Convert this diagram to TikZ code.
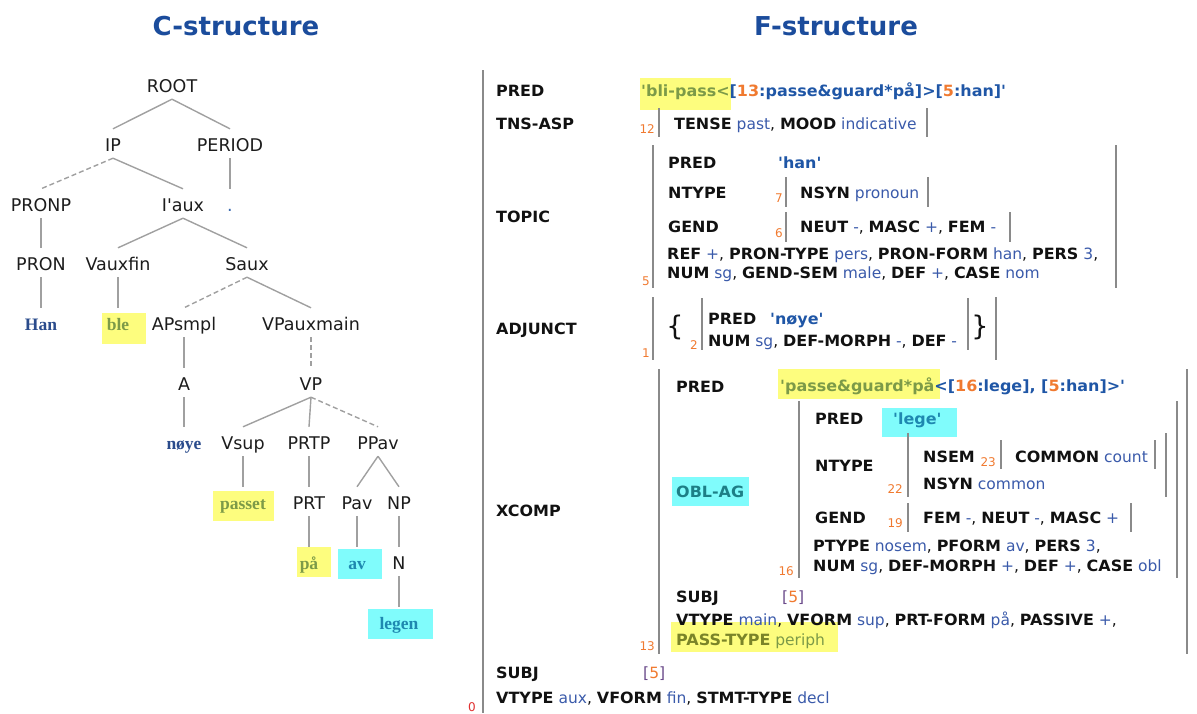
\documentclass[tikz,border=0pt]{standalone}
\usepackage{fontspec}
\setmainfont{DejaVu Sans}[Ligatures=TeXOff, BoldFeatures={FakeStretch=1.03}]
\newfontfamily\headfont{DejaVu Sans}[Ligatures=TeXOff]
\newfontfamily\termfont{Liberation Serif}[Ligatures=TeXOff]

\definecolor{titleblue}{HTML}{1B4C9C}
\definecolor{catblack}{HTML}{1C1C1C}
\definecolor{treegray}{HTML}{A0A0A0}
\definecolor{bargray}{HTML}{8A8A8A}
\definecolor{attrblack}{HTML}{111111}
\definecolor{valblue}{HTML}{3A5AAA}
\definecolor{predblue}{HTML}{1F56A6}
\definecolor{idxorange}{HTML}{F07A30}
\definecolor{zerored}{HTML}{E03030}
\definecolor{brackpurple}{HTML}{6A4A8A}
\definecolor{hlyellow}{HTML}{FDFD7E}
\definecolor{hlcyan}{HTML}{80FCFC}
\definecolor{hltext}{HTML}{7C9A48}
\definecolor{passtext}{HTML}{7A8428}
\definecolor{cyantext}{HTML}{1E88B0}
\definecolor{obltext}{HTML}{1D7F86}
\definecolor{termblue}{HTML}{2B4C8C}
\definecolor{dotblue}{HTML}{3A6AB0}

% attribute / value helpers for the f-structure
\newcommand\fatt[1]{\textbf{\textcolor{attrblack}{#1}}}
\newcommand\fval[1]{\textcolor{valblue}{#1}}
\newcommand\sform[1]{\textbf{\textcolor{predblue}{#1}}}
\newcommand\ixn[1]{\textcolor{idxorange}{#1}}
\newcommand\brk[1]{\textcolor{brackpurple}{#1}}

\tikzset{
  ctitle/.style={font=\fontsize{26}{30}\selectfont\headfont\bfseries, text=titleblue, anchor=base, inner sep=0},
  cat/.style={font=\fontsize{17.5}{20}\selectfont, text=catblack, inner sep=0,
              text height=22.4pt, text depth=6.6pt, anchor=base},
  term/.style={cat, font=\fontsize{17.5}{20}\selectfont\termfont\bfseries},
  branch/.style={draw=treegray, line width=1.4pt},
  dbranch/.style={branch, dash pattern=on 5pt off 3pt},
  fs/.style={font=\fontsize{15.5}{18}\selectfont, inner sep=0, anchor=base west, text=attrblack},
  idx/.style={font=\fontsize{12}{13}\selectfont, text=idxorange, inner sep=0, anchor=base east},
  fbar/.style={draw=bargray, line width=2pt},
  hly/.style={fill=hlyellow},
  hlc/.style={fill=hlcyan},
  brace/.style={font=\fontsize{27}{27}\selectfont, inner sep=0, text=attrblack}
}

\begin{document}
\begin{tikzpicture}[x=1pt,y=-1pt]
\useasboundingbox (0,0) rectangle (1197,713);

% ---------------- titles ----------------
\node[ctitle] (ctit) at (236,35.5) {C-structure};
\node[ctitle] (ftit) at (836,35.5) {F-structure};

% ---------------- c-structure highlights ----------------
\fill[hly] (102,313) rectangle (146,344);
\fill[hly] (213,491) rectangle (274,521);
\fill[hly] (297,547) rectangle (331,577);
\fill[hlc] (338,549) rectangle (382,579);
\fill[hlc] (368,609) rectangle (433,639);

% ---------------- c-structure tree ----------------
\node[cat] (root)   at (172,92.4)  {ROOT};
\node[cat] (ip)     at (113,151.4) {IP};
\node[cat] (period) at (230,151.4) {PERIOD};
\node[cat] (pronp)  at (41,211.4)  {PRONP};
\node[cat] (iaux)   at (183,211.4) {I'aux};
\node[cat, text=dotblue] (dot) at (230,211.4) {.};
\node[cat] (pron)   at (41,270.4)  {PRON};
\node[cat] (vauxfin) at (118,270.4) {Vauxfin};
\node[cat] (saux)   at (247,270.4) {Saux};
\node[term, text=termblue] (han) at (41,330.4) {Han};
\node[term, text=hltext] (ble) at (118,330.4) {ble};
\node[cat] (apsmpl) at (184,330.4) {APsmpl};
\node[cat] (vpaux)  at (311,330.4) {VPauxmain};
\node[cat] (a)      at (184,390.4) {A};
\node[cat] (vp)     at (311,390.4) {VP};
\node[term, text=termblue] (noye) at (184,449.4) {nøye};
\node[cat] (vsup)   at (243,449.4) {Vsup};
\node[cat] (prtp)   at (309,449.4) {PRTP};
\node[cat] (ppav)   at (378,449.4) {PPav};
\node[term, text=hltext] (passet) at (243,509.4) {passet};
\node[cat] (prt)    at (309,509.4) {PRT};
\node[cat] (pav)    at (357,509.4) {Pav};
\node[cat] (np)     at (399,509.4) {NP};
\node[term, text=hltext] (paa) at (309,569.4) {på};
\node[term, text=cyantext] (av) at (357,569.4) {av};
\node[cat] (n)      at (399,569.4) {N};
\node[term, text=cyantext] (legen) at (399,629.4) {legen};

\draw[branch]  (root.south) -- (ip.north);
\draw[branch]  (root.south) -- (period.north);
\draw[dbranch] (ip.south) -- (pronp.north);
\draw[branch]  (ip.south) -- (iaux.north);
\draw[branch]  (period.south) -- (dot.north);
\draw[branch]  (pronp.south) -- (pron.north);
\draw[branch]  (iaux.south) -- (vauxfin.north);
\draw[branch]  (iaux.south) -- (saux.north);
\draw[branch]  (pron.south) -- (han.north);
\draw[branch]  (vauxfin.south) -- (ble.north);
\draw[dbranch] (saux.south) -- (apsmpl.north);
\draw[branch]  (saux.south) -- (vpaux.north);
\draw[branch]  (apsmpl.south) -- (a.north);
\draw[dbranch] (vpaux.south) -- (vp.north);
\draw[branch]  (a.south) -- (noye.north);
\draw[branch]  (vp.south) -- (vsup.north);
\draw[branch]  (vp.south) -- (prtp.north);
\draw[dbranch] (vp.south) -- (ppav.north);
\draw[branch]  (vsup.south) -- (passet.north);
\draw[branch]  (prtp.south) -- (prt.north);
\draw[branch]  (ppav.south) -- (pav.north);
\draw[branch]  (ppav.south) -- (np.north);
\draw[branch]  (prt.south) -- (paa.north);
\draw[branch]  (pav.south) -- (av.north);
\draw[branch]  (np.south) -- (n.north);
\draw[branch]  (n.south) -- (legen.north);

% ---------------- f-structure highlights ----------------
\fill[hly] (640,78) rectangle (731,110);
\fill[hly] (778,369) rectangle (940,399);
\fill[hlc] (882,408) rectangle (957,437);
\fill[hlc] (672,477) rectangle (749,506);
\fill[hly] (671,622) rectangle (838,652);

% ---------------- f-structure brackets ----------------
\draw[fbar] (483,70) -- (483,713);
% TNS-ASP
\draw[fbar] (659,108) -- (659,137);  \draw[fbar] (927,108) -- (927,137);
% TOPIC
\draw[fbar] (653,145) -- (653,288);  \draw[fbar] (1116,145) -- (1116,288);
\draw[fbar] (786,177) -- (786,207);  \draw[fbar] (928,177) -- (928,207);
\draw[fbar] (786,212) -- (786,242);  \draw[fbar] (1010,212) -- (1010,242);
% ADJUNCT
\draw[fbar] (653,297) -- (653,360);  \draw[fbar] (996,297) -- (996,360);
\draw[fbar] (702,298) -- (702,350);  \draw[fbar] (968,298) -- (968,350);
% XCOMP
\draw[fbar] (659,369) -- (659,654);  \draw[fbar] (1187,369) -- (1187,654);
\draw[fbar] (799,401) -- (799,578);  \draw[fbar] (1177,401) -- (1177,578);
\draw[fbar] (908,433) -- (908,497);  \draw[fbar] (1166,433) -- (1166,497);
\draw[fbar] (1001,440) -- (1001,469); \draw[fbar] (1155,440) -- (1155,469);
\draw[fbar] (908,503) -- (908,532);  \draw[fbar] (1131,503) -- (1131,532);

% ---------------- f-structure: outer level ----------------
\node[fs] (f0pred) at (496,96.6) {\fatt{PRED}};
\node[fs] (f0predv) at (641,96.6) {\textbf{\textcolor{hltext}{'bli-pass<}\textcolor{predblue}{[}\ixn{13}\textcolor{predblue}{:passe\&guard*på]>[}\ixn{5}\textcolor{predblue}{:han]'}}};
\node[fs] (f0tns) at (496,129.6) {\fatt{TNS-ASP}};
\node[idx] (i12) at (655,133) {12};
\node[fs] (f12) at (674,129.6) {\fatt{TENSE} \fval{past}, \fatt{MOOD} \fval{indicative}};

% TOPIC
\node[fs] (f0topic) at (496,222.6) {\fatt{TOPIC}};
\node[fs] (f5pred) at (668,168.6) {\fatt{PRED}};
\node[fs] (f5predv) at (778,168.6) {\sform{'han'}};
\node[fs] (f5ntype) at (668,198.6) {\fatt{NTYPE}};
\node[idx] (i7) at (783,202) {7};
\node[fs] (f7) at (800,198.6) {\fatt{NSYN} \fval{pronoun}};
\node[fs] (f5gend) at (668,232.6) {\fatt{GEND}};
\node[idx] (i6) at (783,237) {6};
\node[fs] (f6) at (800,232.6) {\fatt{NEUT} \fval{-}, \fatt{MASC} \fval{+}, \fatt{FEM} \fval{-}};
\node[fs] (f5ref) at (667,259.6) {\fatt{REF} \fval{+}, \fatt{PRON-TYPE} \fval{pers}, \fatt{PRON-FORM} \fval{han}, \fatt{PERS} \fval{3},};
\node[fs] (f5num) at (667,278.6) {\fatt{NUM} \fval{sg}, \fatt{GEND-SEM} \fval{male}, \fatt{DEF} \fval{+}, \fatt{CASE} \fval{nom}};
\node[idx] (i5) at (650,285) {5};

% ADJUNCT
\node[fs] (f0adj) at (496,334.6) {\fatt{ADJUNCT}};
\node[idx] (i1) at (650,357) {1};
\node[brace] (lbrace) at (675,327) {\{};
\node[idx] (i2) at (698,349) {2};
\node[fs] (f2pred) at (708,324.6) {\fatt{PRED}};
\node[fs] (f2predv) at (770,324.6) {\sform{'nøye'}};
\node[fs] (f2num) at (708,346.6) {\fatt{NUM} \fval{sg}, \fatt{DEF-MORPH} \fval{-}, \fatt{DEF} \fval{-}};
\node[brace] (rbrace) at (980,327) {\}};

% XCOMP
\node[fs] (f0xcomp) at (496,516.6) {\fatt{XCOMP}};
\node[fs] (f13pred) at (676,392.6) {\fatt{PRED}};
\node[fs] (f13predv) at (780,391.6) {\textbf{\textcolor{hltext}{'passe\&guard*på}\textcolor{predblue}{<[}\ixn{16}\textcolor{predblue}{:lege], [}\ixn{5}\textcolor{predblue}{:han]>'}}};
\node[fs] (f13obl) at (676,497.6) {\textbf{\textcolor{obltext}{OBL-AG}}};
\node[fs] (f16pred) at (815,424.6) {\fatt{PRED}};
\node[fs] (f16predv) at (893,424.6) {\textbf{\textcolor{cyantext}{'lege'}}};
\node[fs] (f16ntype) at (815,471.6) {\fatt{NTYPE}};
\node[idx] (i22) at (903,493) {22};
\node[fs] (f22nsem) at (923,462.6) {\fatt{NSEM}};
\node[idx] (i23) at (996,466) {23};
\node[fs] (f23) at (1015,462.6) {\fatt{COMMON} \fval{count}};
\node[fs] (f22nsyn) at (923,489.6) {\fatt{NSYN} \fval{common}};
\node[fs] (f16gend) at (815,523.6) {\fatt{GEND}};
\node[idx] (i19) at (903,527) {19};
\node[fs] (f19) at (923,523.6) {\fatt{FEM} \fval{-}, \fatt{NEUT} \fval{-}, \fatt{MASC} \fval{+}};
\node[fs] (f16ptype) at (813,551.6) {\fatt{PTYPE} \fval{nosem}, \fatt{PFORM} \fval{av}, \fatt{PERS} \fval{3},};
\node[fs] (f16num) at (813,571.6) {\fatt{NUM} \fval{sg}, \fatt{DEF-MORPH} \fval{+}, \fatt{DEF} \fval{+}, \fatt{CASE} \fval{obl}};
\node[idx] (i16) at (794,575) {16};
\node[fs] (f13subj) at (676,602.6) {\fatt{SUBJ}};
\node[fs] (f13subjv) at (782,602.6) {\brk{[}\ixn{5}\brk{]}};
\node[fs] (f13vtype) at (676,625.6) {\fatt{VTYPE} \fval{main}, \fatt{VFORM} \fval{sup}, \fatt{PRT-FORM} \fval{på}, \fatt{PASSIVE} \fval{+},};
\node[fs] (f13pass) at (676,645.6) {\textbf{\textcolor{passtext}{PASS-TYPE}} \textcolor{hltext}{periph}};
\node[idx] (i13) at (655,650) {13};

% outer SUBJ and remaining features
\node[fs] (f0subj) at (496,678.6) {\fatt{SUBJ}};
\node[fs] (f0subjv) at (643,678.6) {\brk{[}\ixn{5}\brk{]}};
\node[fs] (f0vtype) at (496,703.6) {\fatt{VTYPE} \fval{aux}, \fatt{VFORM} \fval{fin}, \fatt{STMT-TYPE} \fval{decl}};
\node[idx, text=zerored] (i0) at (476,711) {0};
\end{tikzpicture}
\end{document}
